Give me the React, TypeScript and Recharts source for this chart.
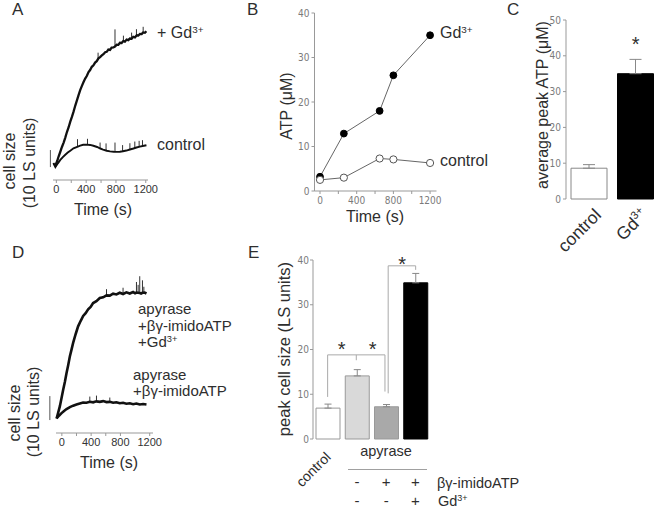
import React from 'react';
import {
  LineChart,
  Line,
  BarChart,
  Bar,
  XAxis,
  YAxis,
  ReferenceLine,
  ReferenceDot,
  ErrorBar,
  Cell,
} from 'recharts';

const SANS = '"Liberation Sans", Arial, Helvetica, sans-serif';
const NARROW = '"Liberation Sans Narrow", "DejaVu Sans Condensed", "Liberation Sans", sans-serif';
const INK = '#2e2e2e';
const GREY = '#999';
const TICK_GREY = '#7a7a7a';

// ---- A: light scattering traces, [time (s), cell size (LS units)]
const gdTraceA = [
  [-30, 9.6], [-13, 8.6], [10, 11.0], [30, 13.8], [53, 16.6], [75, 19.4], [98, 22.0], [120, 24.9],
  [142, 28.2], [165, 31.0], [187, 34.3], [210, 37.2], [232, 40.3], [253, 43.6], [275, 46.6], [298, 49.9],
  [320, 52.8], [343, 55.3], [365, 57.6], [387, 59.6], [410, 61.2], [432, 63.4], [453, 64.6], [476, 66.5],
  [498, 67.4], [520, 69.0], [542, 69.8], [565, 71.5], [587, 72.2], [610, 73.2], [632, 73.9], [655, 75.1],
  [676, 75.3], [698, 76.6], [720, 76.4], [742, 77.8], [765, 77.9], [787, 78.4], [810, 79.5], [832, 79.4],
  [853, 80.6], [876, 80.5], [898, 81.6], [920, 81.3], [943, 82.5], [965, 82.2], [987, 83.1], [1010, 83.0],
  [1032, 84.1], [1055, 83.8], [1080, 85.0], [1100, 84.9], [1122, 85.8], [1145, 85.7], [1165, 86.7],
  [1188, 86.5], [1209, 87.4],
];
// noise spikes: [time, from, to]
const gdSpikesA = [
  [560, 71.2, 74.8], [787, 78.4, 88.5], [900, 81.5, 84.8], [1010, 83.0, 86.6], [1075, 84.9, 88.6],
  [1165, 86.6, 90.0],
];
const ctrlTraceA = [
  [-40, 10.0], [-13, 7.6], [20, 9.8], [53, 11.8], [87, 13.4], [120, 14.8], [153, 16.1], [187, 17.2],
  [230, 18.6], [280, 19.5], [320, 20.2], [360, 20.7], [405, 20.8], [453, 20.6], [497, 20.1], [547, 19.4],
  [590, 18.5], [627, 17.9], [676, 17.2], [720, 16.8], [770, 16.6], [813, 16.5], [853, 16.6], [893, 16.9],
  [940, 17.3], [987, 17.9], [1035, 18.5], [1075, 19.1], [1120, 19.6], [1175, 20.1], [1209, 20.4],
];
const ctrlSpikesA = [
  [284, 19.6, 24.0], [418, 20.8, 24.2], [587, 18.6, 22.0], [667, 17.3, 21.5], [787, 16.5, 22.0],
  [889, 16.9, 20.5], [987, 17.9, 21.6], [1053, 18.8, 22.6], [1111, 19.5, 23.0], [1156, 19.9, 23.4],
];

// ---- B: ATP release (uM) over time (s)
const atpTimes = [0, 260, 650, 800, 1200];
const atpGd = [3.2, 12.9, 18.0, 26.0, 35.0];
const atpCtrl = [2.5, 3.0, 7.3, 7.1, 6.3];

// ---- C: average peak ATP
const peakCats = ['control', 'Gd3+'];
const peakAtp = [8.6, 35.0];
const peakAtpErr = [1.0, 4.0];

// ---- D: traces with apyrase
const gdTraceD = [
  [-72, 6.0], [-50, 8.5], [-27, 11.2], [-5, 14.5], [18, 18.0], [41, 21.3], [64, 25.0], [87, 28.4],
  [109, 31.9], [132, 34.8], [154, 37.6], [188, 41.2], [222, 44.5], [256, 46.7], [291, 48.8], [325, 50.0],
  [359, 51.6], [393, 52.6], [427, 54.2], [472, 55.0], [518, 56.3], [564, 56.6], [610, 57.4], [655, 57.3],
  [700, 58.1], [745, 57.8], [791, 58.5], [836, 58.0], [882, 58.7], [928, 58.2], [973, 58.8], [1000, 58.3],
  [1020, 58.6], [1042, 58.5], [1064, 58.4], [1082, 58.2], [1101, 58.5], [1130, 58.6], [1156, 58.2],
];
const gdSpikesD = [
  [610, 57.4, 60.0], [836, 58.0, 60.6], [1019, 58.5, 63.0], [1042, 58.5, 61.8], [1064, 58.4, 65.4],
  [1101, 58.4, 63.7], [1120, 58.5, 61.0],
];
const ctrlTraceD = [
  [-72, 6.1], [-40, 7.2], [-4, 8.3], [30, 9.2], [64, 10.0], [110, 10.8], [154, 11.4], [200, 11.9],
  [246, 12.3], [290, 12.7], [336, 12.6], [382, 13.0], [427, 12.8], [472, 13.2], [518, 13.0], [564, 13.3],
  [610, 12.9], [655, 13.0], [700, 12.6], [745, 12.8], [791, 12.4], [836, 12.6], [882, 12.2], [928, 12.4],
  [973, 12.0], [1018, 12.3], [1064, 11.9], [1110, 12.1], [1156, 11.9],
];
const ctrlSpikesD = [[382, 13.0, 15.2], [473, 13.2, 15.6], [655, 13.0, 14.8]];

// ---- E: peak cell size (LS units)
const cellCats = ['control', 'apyrase', 'apyrase+imido', 'apyrase+imido+Gd'];
const peakCell = [6.9, 14.1, 7.2, 34.9];
const peakCellErr = [0.9, 1.4, 0.5, 2.1];
const cellFill = ['#ffffff', '#d9d9d9', '#a9a9a9', '#000000'];
const imidoRow = ['', '-', '+', '+'];
const gdRow = ['', '-', '-', '+'];

const timeTicks = [0, 200, 400, 600, 800, 1000, 1200];
const timeFmt = (v: number) => (v % 400 === 0 ? String(v) : '');

const toPts = (arr: number[][]) => arr.map(([t, v]) => ({ t, v }));
const atpGdPts = atpTimes.map((t, i) => ({ t, v: atpGd[i] }));
const atpCtrlPts = atpTimes.map((t, i) => ({ t, v: atpCtrl[i] }));
const cData = peakCats.map((name, i) => ({ name, v: peakAtp[i], e: [0, peakAtpErr[i]] }));
const eData = cellCats.map((name, i) => ({ pos: i, name, v: peakCell[i], e: [0, peakCellErr[i]] }));

const spikes = (arr: number[][], key: string) =>
  arr.map(([t, a, b]) => (
    <ReferenceLine
      key={`${key}-${t}`}
      segment={[{ x: t, y: a }, { x: t, y: b }]}
      stroke="#333"
      strokeWidth={1}
      ifOverflow="visible"
    />
  ));

// text helpers (y = baseline)
const T = ({ x, y, size = 16, anchor = 'start', children }: any) => (
  <div
    style={{
      position: 'absolute',
      left: x,
      top: y - 0.85 * size,
      fontSize: size,
      lineHeight: 1,
      color: INK,
      whiteSpace: 'nowrap',
      transform: anchor === 'middle' ? 'translateX(-50%)' : undefined,
    }}
  >
    {children}
  </div>
);

const VT = ({ cx, cy, size = 16, children }: any) => (
  <div
    style={{
      position: 'absolute',
      left: cx,
      top: cy,
      fontSize: size,
      lineHeight: 1,
      color: INK,
      whiteSpace: 'nowrap',
      transform: 'translate(-50%,-50%) rotate(-90deg)',
    }}
  >
    {children}
  </div>
);

const Sup = ({ children }: any) => (
  <span style={{ fontSize: '0.62em', position: 'relative', top: '-0.55em' }}>{children}</span>
);

const FilledDot = (p: any) => <circle key={p.index} cx={p.cx} cy={p.cy} r={3.4} fill="#000" stroke="#000" />;
const OpenDot = (p: any) => (
  <circle key={p.index} cx={p.cx} cy={p.cy} r={3.6} fill="#fff" stroke="#555" strokeWidth={1} />
);

const Star = (p: any) => (
  <text x={p.cx} y={p.cy + 11} textAnchor="middle" fontSize={20} fontFamily={SANS} fill={INK}>
    *
  </text>
);

const CatTickC = ({ x, y, payload }: any) => {
  const lab = payload.value;
  return (
    <text
      transform={`translate(${x + 13},${y + 17}) rotate(-45)`}
      textAnchor="end"
      fontSize={17.5}
      fontFamily={SANS}
      fill={INK}
    >
      {lab === 'Gd3+' ? (
        <>
          Gd<tspan dy={-7} fontSize={11}>3+</tspan>
        </>
      ) : (
        lab
      )}
    </text>
  );
};

const CatTickE = ({ x, y, payload }: any) => {
  const i = payload.value;
  if (i === 0) {
    return (
      <text
        transform={`translate(${x + 4},${y + 19}) rotate(-45)`}
        textAnchor="end"
        fontSize={14}
        fontFamily={SANS}
        fill={INK}
      >
        control
      </text>
    );
  }
  return (
    <g fontSize={15} fontFamily={SANS} fill={INK} textAnchor="middle">
      <text x={x} y={y + 48}>{imidoRow[i]}</text>
      <text x={x} y={y + 67}>{gdRow[i]}</text>
    </g>
  );
};

const timeAxisTick = { fill: '#333', fontSize: 11, fontFamily: SANS };
const greyTick = { fill: TICK_GREY, fontSize: 10, fontFamily: NARROW };
const bracket = { stroke: '#aaa', strokeWidth: 1, ifOverflow: 'visible' as const };

export default function App() {
  return (
    <div
      style={{
        position: 'absolute',
        left: 0,
        top: 0,
        width: 660,
        height: 512,
        background: '#fff',
        overflow: 'hidden',
        fontFamily: SANS,
      }}
    >
      {/* A */}
      <div style={{ position: 'absolute', left: 0, top: 0 }}>
        <LineChart width={240} height={230} margin={{ top: 20, right: 92, bottom: 20, left: 53 }}>
          <XAxis
            type="number"
            dataKey="t"
            domain={[-45, 1230]}
            ticks={timeTicks}
            tickFormatter={timeFmt}
            height={30}
            tickSize={3}
            tickMargin={2}
            stroke={GREY}
            tick={timeAxisTick}
          />
          <YAxis type="number" domain={[0, 94]} hide />
          <ReferenceLine segment={[{ x: -80, y: 7.6 }, { x: -80, y: 17.6 }]} stroke="#555" ifOverflow="visible" />
          {spikes(ctrlSpikesA, 'ca')}
          {spikes(gdSpikesA, 'ga')}
          <Line data={toPts(ctrlTraceA)} dataKey="v" stroke="#111" strokeWidth={1.9} dot={false} isAnimationActive={false} />
          <Line data={toPts(gdTraceA)} dataKey="v" stroke="#111" strokeWidth={2.3} dot={false} isAnimationActive={false} />
        </LineChart>
      </div>

      {/* B */}
      <div style={{ position: 'absolute', left: 270, top: 0 }}>
        <LineChart width={175} height={230} margin={{ top: 13, right: 8.5, bottom: 14, left: 14.5 }}>
          <XAxis
            type="number"
            dataKey="t"
            domain={[-60, 1270]}
            ticks={timeTicks}
            tickFormatter={timeFmt}
            height={25}
            tickSize={3}
            tickMargin={3}
            stroke={GREY}
            tick={greyTick}
          />
          <YAxis
            type="number"
            domain={[0, 40]}
            ticks={[0, 10, 20, 30, 40]}
            width={30}
            tickSize={3}
            tickMargin={2}
            stroke={GREY}
            tick={greyTick}
          />
          <Line data={atpGdPts} dataKey="v" stroke="#666" strokeWidth={1} dot={FilledDot} isAnimationActive={false} />
          <Line data={atpCtrlPts} dataKey="v" stroke="#666" strokeWidth={1} dot={OpenDot} isAnimationActive={false} />
        </LineChart>
      </div>

      {/* C */}
      <div style={{ position: 'absolute', left: 490, top: 0 }}>
        <BarChart width={170} height={262} data={cData} margin={{ top: 20, right: 1, bottom: 8, left: 46 }}>
          <XAxis dataKey="name" height={55} axisLine={false} tickLine={false} tickSize={0} tickMargin={0} tick={CatTickC} interval={0} />
          <YAxis
            type="number"
            domain={[0, 50]}
            ticks={[0, 10, 20, 30, 40, 50]}
            width={30}
            tickSize={3}
            tickMargin={2}
            stroke={GREY}
            tick={greyTick}
          />
          <Bar dataKey="v" barSize={36} stroke="#888" strokeWidth={1} isAnimationActive={false}>
            {cData.map((d, i) => (
              <Cell key={d.name} fill={i === 0 ? '#fff' : '#000'} stroke={i === 0 ? '#888' : '#000'} />
            ))}
            <ErrorBar dataKey="e" width={6} stroke="#888" strokeWidth={1} direction="y" />
          </Bar>
          <ReferenceDot x="Gd3+" y={44.4} r={0} shape={Star} ifOverflow="visible" />
        </BarChart>
      </div>

      {/* D */}
      <div style={{ position: 'absolute', left: 0, top: 250 }}>
        <LineChart width={240} height={210} margin={{ top: 20, right: 87, bottom: 2, left: 56 }}>
          <XAxis
            type="number"
            dataKey="t"
            domain={[-80, 1245]}
            ticks={timeTicks}
            tickFormatter={timeFmt}
            height={25}
            tickSize={3}
            tickMargin={2}
            stroke={GREY}
            tick={timeAxisTick}
          />
          <YAxis type="number" domain={[0, 68]} hide />
          <ReferenceLine segment={[{ x: -164, y: 5.4 }, { x: -164, y: 15.4 }]} stroke="#555" ifOverflow="visible" />
          {spikes(ctrlSpikesD, 'cd')}
          {spikes(gdSpikesD, 'gd')}
          <Line data={toPts(ctrlTraceD)} dataKey="v" stroke="#111" strokeWidth={2.6} dot={false} isAnimationActive={false} />
          <Line data={toPts(gdTraceD)} dataKey="v" stroke="#111" strokeWidth={2.6} dot={false} isAnimationActive={false} />
        </LineChart>
      </div>

      {/* E */}
      <div style={{ position: 'absolute', left: 260, top: 250 }}>
        <BarChart width={200} height={262} data={eData} margin={{ top: 10, right: 30, bottom: 3, left: 23 }}>
          <XAxis
            type="number"
            dataKey="pos"
            domain={[-0.5, 3.5]}
            ticks={[0, 1, 2, 3]}
            height={70}
            axisLine={false}
            tickLine={false}
            tickSize={0}
            tickMargin={0}
            tick={CatTickE}
            interval={0}
          />
          <YAxis
            type="number"
            domain={[0, 40]}
            ticks={[0, 10, 20, 30, 40]}
            width={30}
            tickSize={3}
            tickMargin={1}
            stroke={GREY}
            tick={greyTick}
          />
          <Bar dataKey="v" barSize={24} isAnimationActive={false}>
            {eData.map((d, i) => (
              <Cell key={d.name} fill={cellFill[i]} stroke={i === 3 ? '#000' : '#999'} strokeWidth={1} />
            ))}
            <ErrorBar dataKey="e" width={3.5} stroke="#888" strokeWidth={1} direction="y" />
          </Bar>
          {/* significance brackets */}
          <ReferenceLine segment={[{ x: 0, y: 9.4 }, { x: 0, y: 18.8 }]} {...bracket} />
          <ReferenceLine segment={[{ x: 0, y: 18.8 }, { x: 1.96, y: 18.8 }]} {...bracket} />
          <ReferenceLine segment={[{ x: 0.98, y: 18.8 }, { x: 0.98, y: 17.6 }]} {...bracket} />
          <ReferenceLine segment={[{ x: 1.96, y: 18.8 }, { x: 1.96, y: 10.6 }]} {...bracket} />
          <ReferenceLine segment={[{ x: 2.07, y: 10.2 }, { x: 2.07, y: 38.7 }]} {...bracket} />
          <ReferenceLine segment={[{ x: 2.07, y: 38.7 }, { x: 3.01, y: 38.7 }]} {...bracket} />
          <ReferenceLine segment={[{ x: 3.01, y: 38.7 }, { x: 3.01, y: 37.8 }]} {...bracket} />
          <ReferenceDot x={0.48} y={21.0} r={0} shape={Star} ifOverflow="visible" />
          <ReferenceDot x={1.54} y={21.0} r={0} shape={Star} ifOverflow="visible" />
          <ReferenceDot x={2.55} y={40.0} r={0} shape={Star} ifOverflow="visible" />
        </BarChart>
      </div>

      {/* panel letters */}
      <T x={12} y={15} size={17}>A</T>
      <T x={247} y={15} size={17}>B</T>
      <T x={507} y={15} size={17}>C</T>
      <T x={12} y={258} size={17}>D</T>
      <T x={248} y={258} size={17}>E</T>

      {/* A labels */}
      <T x={157} y={39} size={16}>+ Gd<Sup>3+</Sup></T>
      <T x={157} y={151} size={16}>control</T>
      <T x={103} y={216} size={16} anchor="middle">Time (s)</T>
      <VT cx={10} cy={161} size={16}>cell size</VT>
      <VT cx={30} cy={163} size={16}>(10 LS units)</VT>

      {/* B labels */}
      <T x={440} y={39} size={16}>Gd<Sup>3+</Sup></T>
      <T x={440} y={167} size={16}>control</T>
      <T x={375} y={223} size={16} anchor="middle">Time (s)</T>
      <VT cx={287} cy={106} size={16}>ATP (μM)</VT>

      {/* C labels */}
      <VT cx={543} cy={105} size={16}>average peak ATP (μM)</VT>

      {/* D labels */}
      <T x={138} y={314} size={15}>apyrase</T>
      <T x={138} y={331} size={15}>+βγ-imidoATP</T>
      <T x={138} y={347} size={15}>+Gd<Sup>3+</Sup></T>
      <T x={133} y={380} size={15}>apyrase</T>
      <T x={133} y={396} size={15}>+βγ-imidoATP</T>
      <T x={109} y={469} size={16} anchor="middle">Time (s)</T>
      <VT cx={15} cy={413} size={16}>cell size</VT>
      <VT cx={34} cy={412} size={16}>(10 LS units)</VT>

      {/* E labels */}
      <VT cx={284} cy={349} size={16.5}>peak cell size (LS units)</VT>
      <T x={386} y={456} size={14.5} anchor="middle">apyrase</T>
      <div style={{ position: 'absolute', left: 348, top: 468.5, width: 79, height: 1.5, background: '#a0a0a0' }} />
      <T x={437} y={488} size={14.5}>βγ-imidoATP</T>
      <T x={438} y={506} size={14.5}>Gd<Sup>3+</Sup></T>
    </div>
  );
}
